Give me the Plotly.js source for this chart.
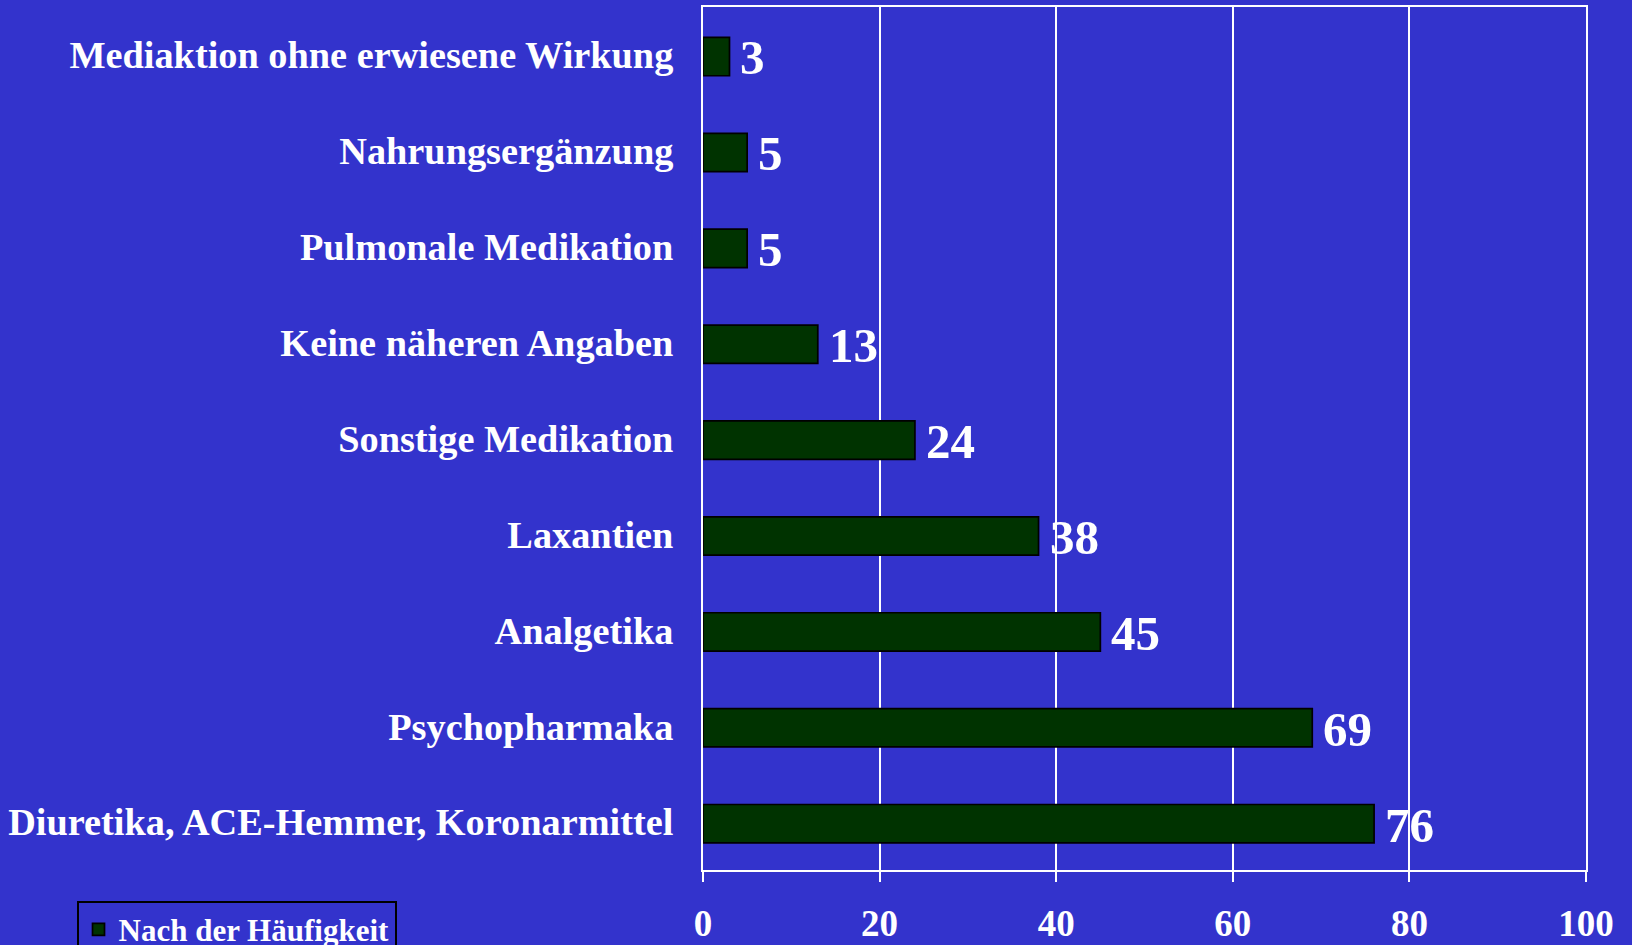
<!DOCTYPE html>
<html>
<head>
<meta charset="utf-8">
<script src="https://cdn.plot.ly/plotly-3.0.1.min.js"></script>
<style>html,body{margin:0;padding:0;background:#3333CC;}#chart{width:1632px;height:945px;}</style>
</head>
<body>
<div id="chart"></div>
<script>
// Data (top to bottom as shown)
const categories = [
  "Mediaktion ohne erwiesene Wirkung",
  "Nahrungsergänzung",
  "Pulmonale Medikation",
  "Keine näheren Angaben",
  "Sonstige Medikation",
  "Laxantien",
  "Analgetika",
  "Psychopharmaka",
  "Diuretika, ACE-Hemmer, Koronarmittel"
];
const values = [3, 5, 5, 13, 24, 38, 45, 69, 76];
const seriesName = "Nach der Häufigkeit";
const xTicks = [0, 20, 40, 60, 80, 100];

const FONT = "'Liberation Serif', 'Times New Roman', serif";

const trace = {
  type: 'bar',
  orientation: 'h',
  x: values,
  y: categories,
  name: seriesName,
  width: 0.4,
  offset: -0.183,
  marker: {color: '#003300', line: {color: '#000000', width: 1.7}},
  showlegend: true,
  hoverinfo: 'x+y'
};

const annotations = values.map((v, i) => ({
  x: v, y: categories[i], xref: 'x', yref: 'y',
  text: String(v), showarrow: false,
  xanchor: 'left', yanchor: 'middle', xshift: 9, yshift: -3,
  font: {family: FONT, size: 49, color: '#ffffff', weight: 'bold'}
}));

const layout = {
  width: 1632, height: 945,
  paper_bgcolor: '#3333CC',
  plot_bgcolor: '#3333CC',
  margin: {l: 703, r: 46, t: 7, b: 75, autoexpand: false},
  font: {family: FONT, color: '#ffffff', weight: 'bold'},
  xaxis: {
    range: [0, 100],
    tickvals: xTicks,
    ticktext: xTicks.map(String),
    showgrid: true, gridcolor: '#ffffff', gridwidth: 2,
    showline: true, linecolor: '#ffffff', linewidth: 2, mirror: true,
    ticks: 'outside', ticklen: 10, tickwidth: 2, tickcolor: '#ffffff',
    ticklabelstandoff: 10,
    tickfont: {family: FONT, size: 37, color: '#ffffff', weight: 'bold'},
    zeroline: false, fixedrange: true
  },
  yaxis: {
    type: 'category',
    autorange: 'reversed',
    showgrid: false,
    showline: true, linecolor: '#ffffff', linewidth: 2, mirror: true,
    ticks: '',
    ticklabelstandoff: 20,
    tickfont: {family: FONT, size: 38.3, color: '#ffffff', weight: 'bold'},
    zeroline: false, fixedrange: true
  },
  showlegend: true,
  legend: {
    x: -0.7095, y: -0.0356, xanchor: 'left', yanchor: 'top',
    xref: 'paper', yref: 'paper',
    bgcolor: 'rgba(0,0,0,0)',
    bordercolor: '#000000', borderwidth: 2,
    font: {family: FONT, size: 31, color: '#ffffff', weight: 'bold'}
  },
  annotations: annotations
};

Plotly.newPlot('chart', [trace], layout, {displayModeBar: false, staticPlot: true});
</script>
</body>
</html>
